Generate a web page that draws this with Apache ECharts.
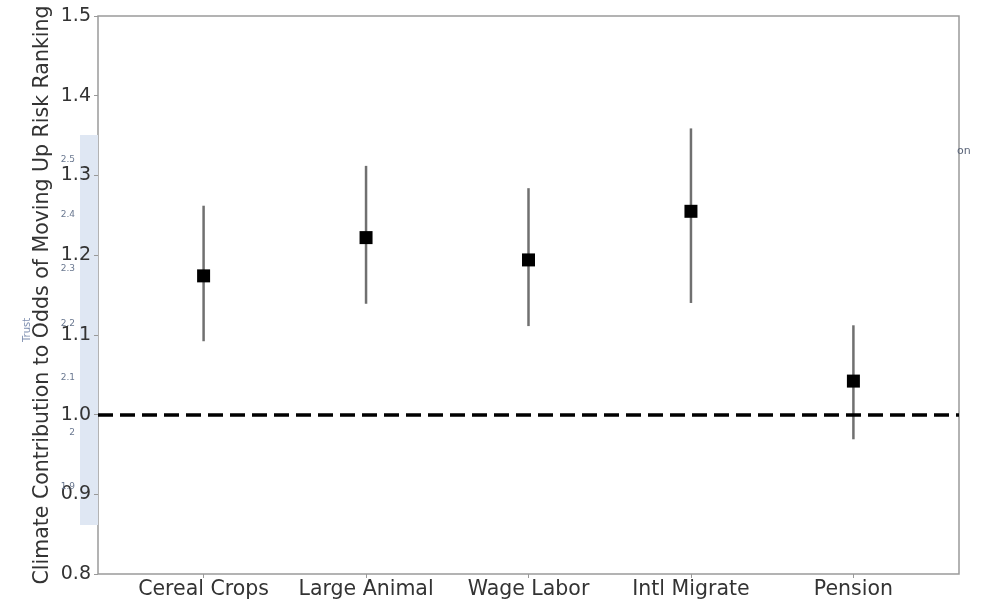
<!DOCTYPE html>
<html>
<head>
<meta charset="utf-8">
<script src="https://cdn.jsdelivr.net/npm/echarts@6/dist/echarts.min.js"></script>
<style>
  html, body { margin: 0; padding: 0; background: #fff; }
  #chart { width: 981px; height: 600px; }
</style>
</head>
<body>
<div id="chart"></div>
<script>
// Odds-ratio estimates with confidence intervals per livelihood category
const categories = ['Cereal Crops', 'Large Animal', 'Wage Labor', 'Intl Migrate', 'Pension'];
const estimates = [1.174, 1.222, 1.194, 1.255, 1.042];
const lowerCI = [1.092, 1.139, 1.111, 1.140, 0.969];
const upperCI = [1.262, 1.312, 1.284, 1.359, 1.112];
const referenceLine = 1.0;

// Secondary "Trust" scale shown in the narrow band at the left
const trustTicks = [1.9, 2, 2.1, 2.2, 2.3, 2.4, 2.5];

const positions = categories.map((_, i) => i);
const pointData = positions.map(i => [i, estimates[i]]);
const ciData = positions.map(i => [i, lowerCI[i], upperCI[i]]);

const font = 'DejaVu Sans';
const chart = echarts.init(document.getElementById('chart'), null, { renderer: 'canvas' });

chart.setOption({
  animation: false,
  backgroundColor: '#ffffff',
  grid: [
    {
      left: 98, right: 22, top: 16, bottom: 25,
      show: true, borderColor: '#9a9a9a', borderWidth: 1.5, backgroundColor: 'transparent'
    },
    {
      left: 80, width: 18, top: 135, height: 390,
      show: true, borderWidth: 0, backgroundColor: '#dfe7f3'
    }
  ],
  xAxis: [
    {
      type: 'value', gridIndex: 0, min: -0.65, max: 4.65,
      axisLine: { show: false, onZero: false },
      splitLine: { show: false },
      axisTick: { show: true, customValues: positions, length: 4, lineStyle: { color: '#999' } },
      axisLabel: {
        customValues: positions,
        formatter: v => categories[Math.round(v)],
        fontFamily: font, fontSize: 20.5, color: '#333', margin: 5
      }
    },
    {
      type: 'value', gridIndex: 1, min: 0, max: 1, show: false
    }
  ],
  yAxis: [
    {
      type: 'value', gridIndex: 0, min: 0.8, max: 1.5, interval: 0.1,
      axisLine: { show: false, onZero: false },
      splitLine: { show: false },
      axisTick: { show: true, length: 4, lineStyle: { color: '#999' } },
      axisLabel: {
        formatter: v => v.toFixed(1),
        fontFamily: font, fontSize: 19, color: '#333', margin: 7
      },
      name: 'Climate Contribution to Odds of Moving Up Risk Ranking',
      nameLocation: 'middle', nameRotate: 90, nameGap: 45,
      nameMoveOverlap: false,
      nameTextStyle: { fontFamily: font, fontSize: 20.5, color: '#333' }
    },
    {
      type: 'value', gridIndex: 1, min: 1.83, max: 2.546,
      axisLine: { show: false, onZero: false },
      axisTick: { show: false },
      splitLine: { show: false },
      axisLabel: {
        customValues: trustTicks,
        formatter: v => String(v),
        fontFamily: font, fontSize: 9, color: '#6a7890', margin: 5
      },
      name: 'Trust',
      nameLocation: 'middle', nameRotate: 90, nameGap: 48,
      nameMoveOverlap: false,
      nameTextStyle: { fontFamily: font, fontSize: 10, color: '#7f8fb0' }
    }
  ],
  graphic: [
    {
      type: 'text', left: 957, top: 146,
      style: { text: 'on', fontFamily: font, fontSize: 11, fill: '#5a6478' }
    }
  ],
  series: [
    {
      type: 'custom',
      xAxisIndex: 0, yAxisIndex: 0,
      data: ciData,
      renderItem: (params, api) => {
        const lo = api.coord([api.value(0), api.value(1)]);
        const hi = api.coord([api.value(0), api.value(2)]);
        return {
          type: 'line',
          shape: { x1: lo[0], y1: lo[1], x2: hi[0], y2: hi[1] },
          style: { stroke: '#707070', lineWidth: 2.5 }
        };
      },
      z: 2
    },
    {
      type: 'scatter',
      xAxisIndex: 0, yAxisIndex: 0,
      data: pointData,
      symbol: 'rect', symbolSize: 13,
      itemStyle: { color: '#000', opacity: 1 },
      z: 3,
      markLine: {
        silent: true,
        symbol: ['none', 'none'],
        label: { show: false },
        lineStyle: { color: '#000', type: [15, 7], width: 3.5, opacity: 1 },
        data: [{ yAxis: referenceLine }]
      }
    }
  ]
});
</script>
</body>
</html>
